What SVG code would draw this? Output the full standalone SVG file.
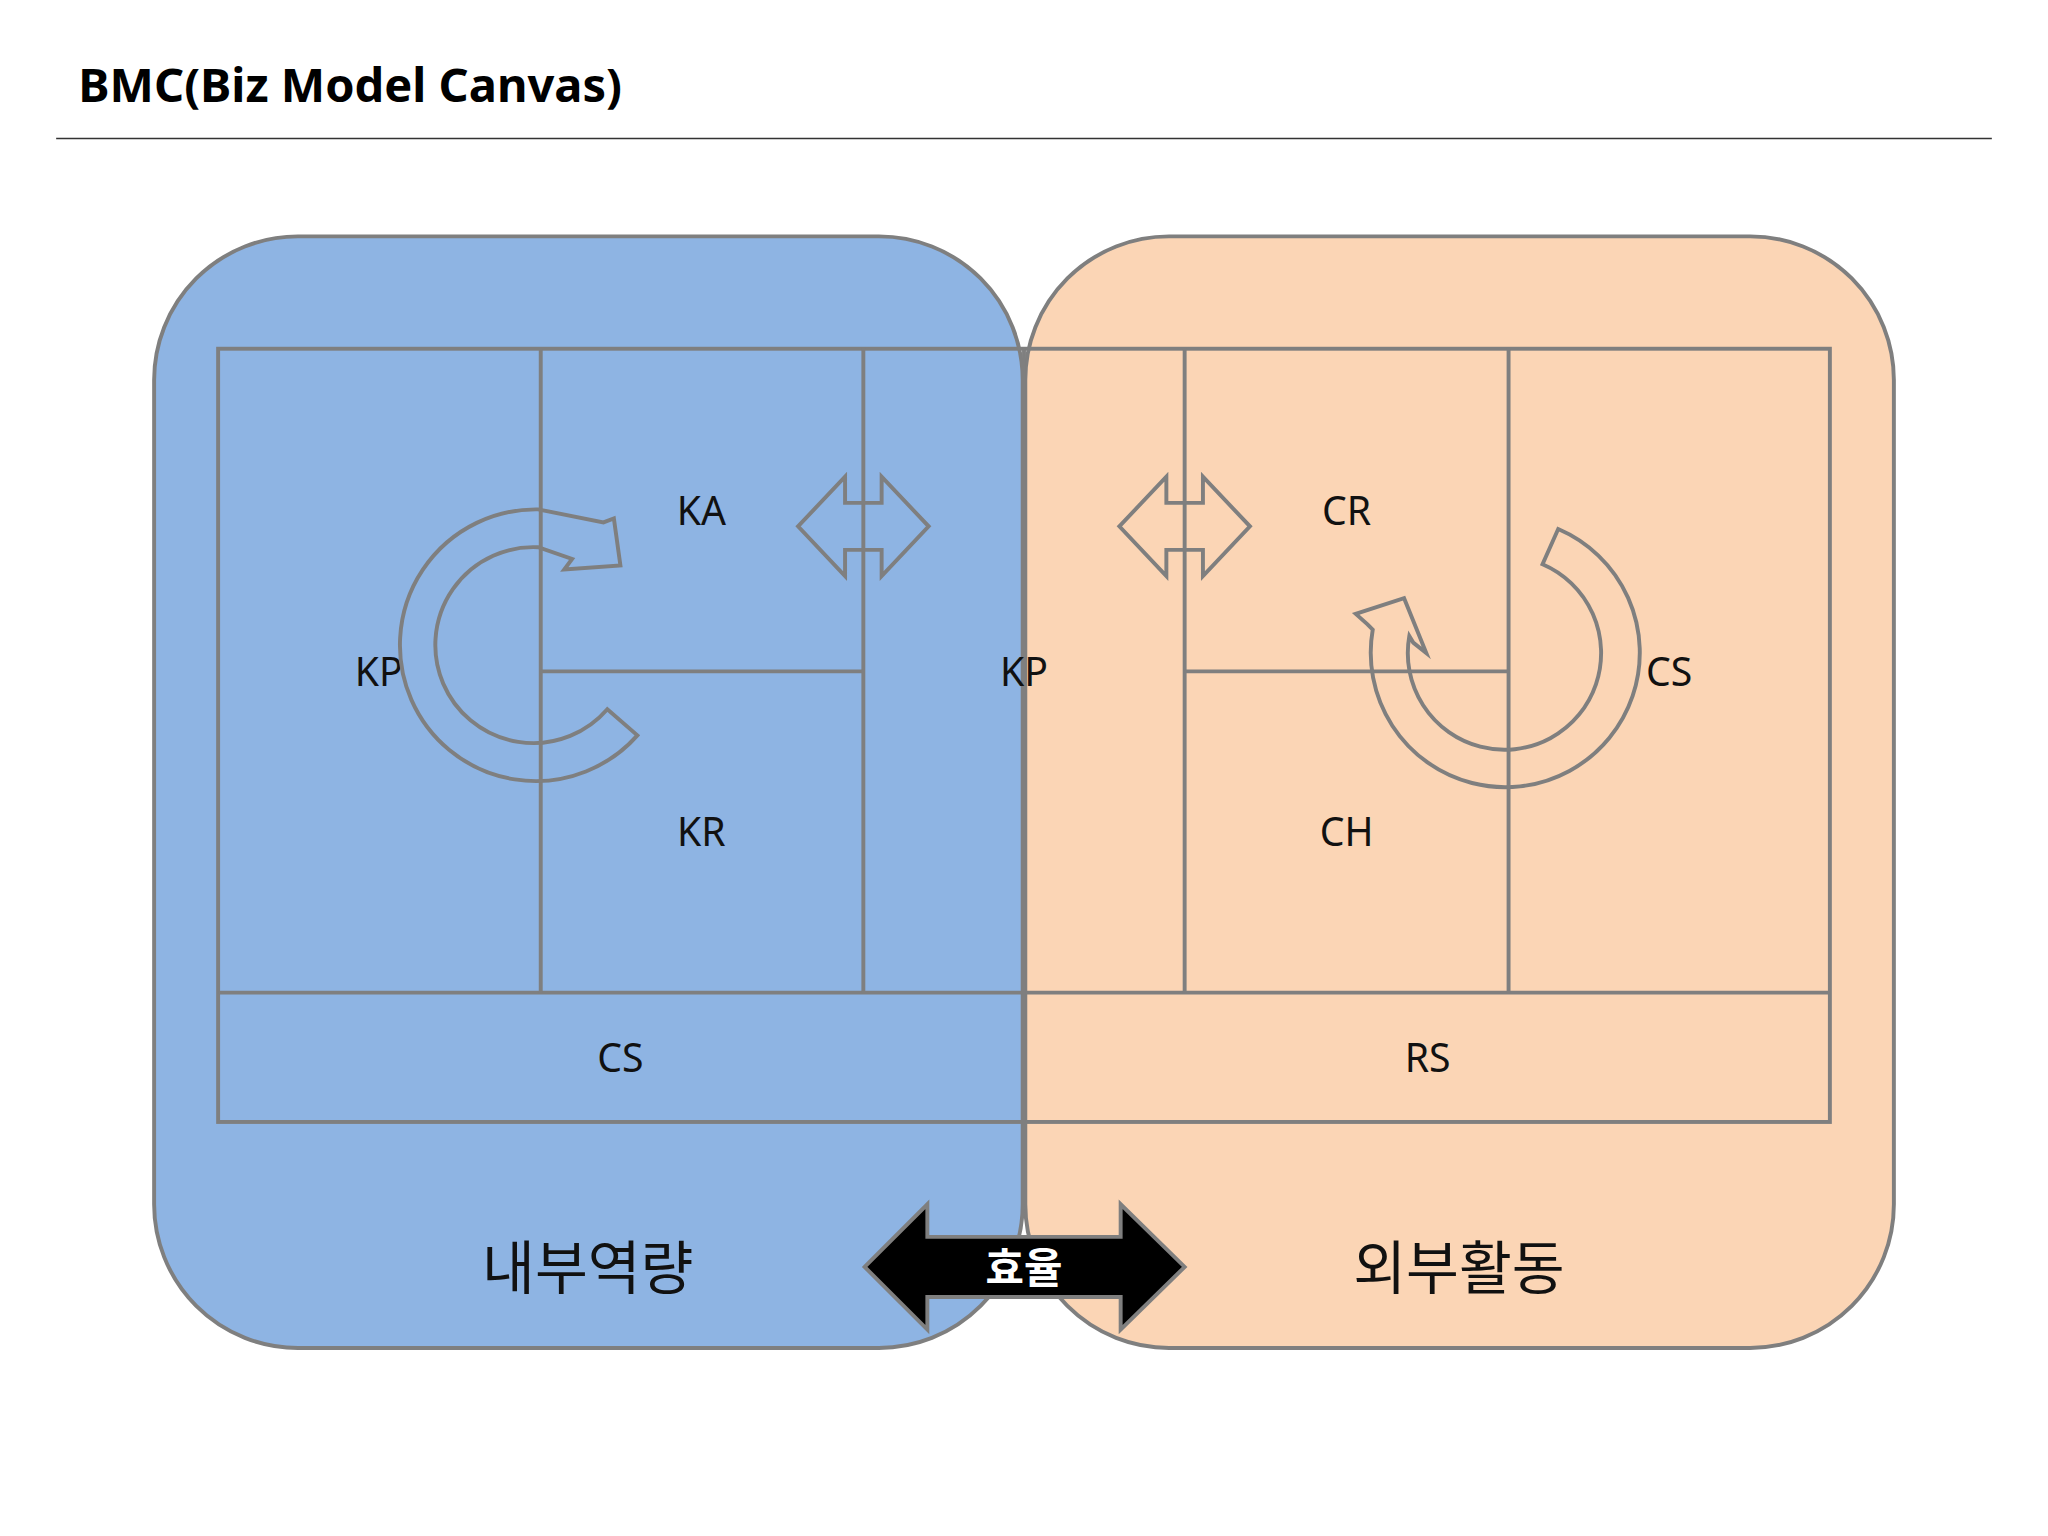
<svg xmlns="http://www.w3.org/2000/svg" width="2048" height="1536" viewBox="0 0 2048 1536">
<style>
.s{stroke:#7f7f7f;stroke-width:3;fill:none}
.t{font-family:"Noto Sans","Liberation Sans",sans-serif;font-size:30px;fill:#111;text-anchor:middle}
.k{font-family:"Noto Sans CJK KR",sans-serif;font-size:44px;fill:#111;text-anchor:middle}
</style>
<rect width="2048" height="1536" fill="#fff"/>
<g transform="scale(1.306122)">
<text x="60" y="78" font-family="'Noto Sans','Liberation Sans',sans-serif" font-weight="bold" font-size="36" fill="#000">BMC(Biz Model Canvas)</text>
<line x1="43" y1="106" x2="1525" y2="106" stroke="#333" stroke-width="1.2"/>
<g id="right-area"><rect x="785" y="181" width="665" height="851" rx="110" fill="#fbd5b5" class="s" style="fill:#fbd5b5"/></g>
<g id="left-area"><rect x="118" y="181" width="665" height="851" rx="110" class="s" style="fill:#8eb4e3"/></g>
<g id="grid" class="s">
<rect x="167" y="267" width="1234" height="592"/>
<line x1="167" y1="760" x2="1401" y2="760"/>
<line x1="414" y1="267" x2="414" y2="760"/>
<line x1="661" y1="267" x2="661" y2="760"/>
<line x1="907" y1="267" x2="907" y2="760"/>
<line x1="1155" y1="267" x2="1155" y2="760"/>
<line x1="784" y1="267" x2="784" y2="859"/>
<line x1="414" y1="514" x2="661" y2="514"/>
<line x1="907" y1="514" x2="1155" y2="514"/>
</g>
<g id="labels">
<text class="t" x="537" y="402">KA</text>
<text class="t" x="290" y="525">KP</text>
<text class="t" x="537" y="648">KR</text>
<text class="t" x="784" y="525">KP</text>
<text class="t" x="1031" y="402">CR</text>
<text class="t" x="1031" y="648">CH</text>
<text class="t" x="1278" y="525">CS</text>
<text class="t" x="475" y="821">CS</text>
<text class="t" x="1093" y="821">RS</text>
<text class="k" x="450" y="987">내부역량</text>
<text class="k" x="1117" y="987">외부활동</text>
</g>
<g id="connectors">
<path class="s" d="M611,403 L647,365 L647,385 L675,385 L675,365 L711,403 L675,441 L675,421 L647,421 L647,441 Z"/>
<path class="s" d="M857,403 L893,365 L893,385 L921,385 L921,365 L957,403 L921,441 L921,421 L893,421 L893,441 Z"/>
<path class="s" d="M488,563 A104 104 0 1 1 412,390 L462,400 L470,397 L475,433 L432,436 L438,428 L412,419 A75 75 0 1 0 465,543 Z"/>
<path class="s" d="M1193,405 A103 103 0 1 1 1051,482 L1047,478 L1038,470 L1075,458 L1092,500 L1082,492 L1079,487 A74 74 0 1 0 1181,432 Z"/>
<path d="M662,970 L710,922 L710,947 L858,947 L858,922 L907,970 L858,1018 L858,993 L710,993 L710,1018 Z" fill="#000" stroke="#7f7f7f" stroke-width="3"/>
<text x="784" y="982" font-family="'Noto Sans CJK KR',sans-serif" font-weight="bold" font-size="32" fill="#fff" text-anchor="middle">효율</text>
</g>
</g>
</svg>
